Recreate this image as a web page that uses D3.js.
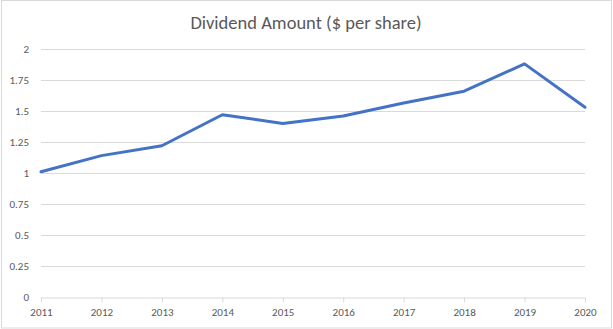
<!DOCTYPE html>
<html>
<head>
<meta charset="utf-8">
<script src="https://cdn.jsdelivr.net/npm/d3@7"></script>
<style>
  html, body { margin: 0; padding: 0; background: #fff; }
  svg { display: block; font-family: Calibri, Carlito, Lato, "Open Sans", sans-serif; }
</style>
</head>
<body>
<svg id="chart" width="613" height="329"></svg>
<script>
// Dividend per share by year
const years = [2011, 2012, 2013, 2014, 2015, 2016, 2017, 2018, 2019, 2020];
const dividends = [1.01, 1.14, 1.22, 1.47, 1.40, 1.46, 1.565, 1.66, 1.88, 1.53];
const yTicks = [0, 0.25, 0.5, 0.75, 1, 1.25, 1.5, 1.75, 2];
const titleText = "Dividend Amount ($ per share)";

const W = 613, H = 329;
const margin = { left: 41, right: 28, top: 49, bottom: 32 };
const labelFont = "Calibri, Carlito, Lato, 'Open Sans', sans-serif";

const svg = d3.select("#chart");

// chart frame
svg.append("rect")
  .attr("x", 1.5).attr("y", 0.5)
  .attr("width", W - 3).attr("height", H - 1.5)
  .attr("fill", "#fff").attr("stroke", "#d9d9d9");

const x = d3.scalePoint().domain(years).range([margin.left, W - margin.right]);
const y = d3.scaleLinear().domain([0, 2]).range([H - margin.bottom, margin.top]);

// horizontal gridlines
svg.append("g").selectAll("line")
  .data(yTicks.filter(t => t > 0))
  .join("line")
  .attr("x1", margin.left).attr("x2", W - margin.right)
  .attr("y1", d => Math.round(y(d)) + 0.5).attr("y2", d => Math.round(y(d)) + 0.5)
  .attr("stroke", "#d9d9d9").attr("stroke-width", 1);

// y axis labels
const yAxis = d3.axisLeft(y).tickValues(yTicks).tickSize(0).tickPadding(12)
  .tickFormat(d => String(d));
const gy = svg.append("g").attr("transform", `translate(${margin.left},0)`).call(yAxis);
gy.select(".domain").remove();
gy.selectAll("text").attr("fill", "#595959").style("font-size", "11px")
  .style("font-family", labelFont);

// x axis with tick marks
const xAxis = d3.axisBottom(x).tickSizeInner(5).tickSizeOuter(0).tickPadding(6)
  .tickFormat(d => String(d));
const gx = svg.append("g").attr("transform", `translate(0,${Math.round(y(0)) + 0.5})`).call(xAxis);
gx.select(".domain").attr("stroke", "#d9d9d9");
gx.selectAll(".tick line").attr("stroke", "#d9d9d9");
gx.selectAll("text").attr("fill", "#595959").style("font-size", "11px")
  .style("font-family", labelFont);

// dividend line
const line = d3.line().x((d, i) => x(years[i])).y(d => y(d));
svg.append("path")
  .datum(dividends)
  .attr("d", line)
  .attr("fill", "none")
  .attr("stroke", "#4472C4")
  .attr("stroke-width", 3)
  .attr("stroke-linejoin", "round")
  .attr("stroke-linecap", "round");

// title
svg.append("text")
  .attr("x", 306).attr("y", 29)
  .attr("text-anchor", "middle")
  .attr("fill", "#595959")
  .style("font-size", "18.5px")
  .text(titleText);
</script>
</body>
</html>
